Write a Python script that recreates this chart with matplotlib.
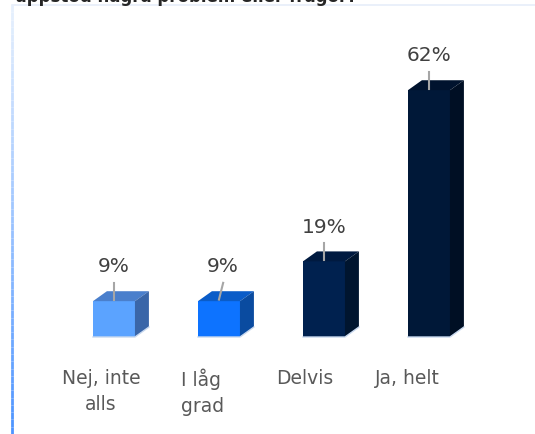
import numpy as np
import matplotlib
matplotlib.use("Agg")
import matplotlib.pyplot as plt
from matplotlib.patches import Polygon
from matplotlib.collections import LineCollection

# data
categories = ["Nej, inte\nalls", "I låg\ngrad", "Delvis", "Ja, helt"]
values = [9, 9, 19, 62]
labels = ["9%", "9%", "19%", "62%"]

front_cols = ["#5ba3ff", "#0d73ff", "#00214f", "#001838"]
top_cols = ["#4a7fcc", "#0a5cc8", "#001a40", "#00132e"]
side_cols = ["#3a66a8", "#0a4ba0", "#00152f", "#000f24"]

fig = plt.figure(figsize=(5.35, 4.34), dpi=100)
ax = fig.add_axes([12 / 535, 0, 523 / 535, 429 / 434])
ax.set_xlim(-0.971, 4.01)
ax.set_ylim(-24.37, 83.4)
ax.axis("off")

w = 0.4     # bar width (data units)
dx = 0.133  # depth offset x
dy = 2.5    # depth offset y

x = np.arange(len(values))
ax.bar(x, values, width=w, color=front_cols, zorder=3)
for i, v in enumerate(values):
    l, r = x[i] - w / 2, x[i] + w / 2
    ax.add_patch(Polygon([(l, v), (r, v), (r + dx, v + dy), (l + dx, v + dy)],
                         closed=True, color=top_cols[i], lw=0, zorder=3))
    ax.add_patch(Polygon([(r, 0), (r + dx, dy), (r + dx, v + dy), (r, v)],
                         closed=True, color=side_cols[i], lw=0, zorder=3))
    # faint light bottom edge
    ax.plot([l, r, r + dx], [0, 0, dy], color="#c8d8ee", lw=1, zorder=4)
    # leader line + value label
    slant = 0.04 if i == 1 else 0.0
    ax.plot([x[i], x[i] + slant], [v + 0.4, v + 4.6], color="#a6a6a6",
            lw=1.5, zorder=5)
    ax.text(x[i] + slant * 0.8, v + 8.6, labels[i], ha="center", va="center",
            fontsize=14.5, color="#404040", zorder=6)

# category labels
for i, c in enumerate(categories):
    ax.text(i * 0.972 - 0.124, -8.0, c, ha="center", va="top",
            multialignment="left" if i == 1 else "center", fontsize=13.5,
            color="#595959", linespacing=1.45)

# frame: gradient left border and faint top border
yy = np.linspace(1 - 5 / 434, 0, 60)
segs = [[(12 / 535, yy[k]), (12 / 535, yy[k + 1])] for k in range(len(yy) - 1)]
cmap = matplotlib.colors.LinearSegmentedColormap.from_list("b", ["#e6f0fd", "#9cc4ff", "#4d94ff"])
lc = LineCollection(segs, colors=cmap(np.linspace(0, 1, len(segs))), lw=2,
                    transform=fig.transFigure)
fig.add_artist(lc)
fig.add_artist(plt.Line2D([12 / 535, 1], [1 - 5 / 434, 1 - 5 / 434],
                          color="#e6eefa", lw=1.2, transform=fig.transFigure))

# cut-off title (only its lower part shows, as in the original)
fig.text(15 / 535, 1 - 1.5 / 434, "uppstod några problem eller frågor?",
         ha="left", va="baseline", fontsize=12, fontweight="bold",
         color="#262626")

fig.savefig("out.png", dpi=100)
